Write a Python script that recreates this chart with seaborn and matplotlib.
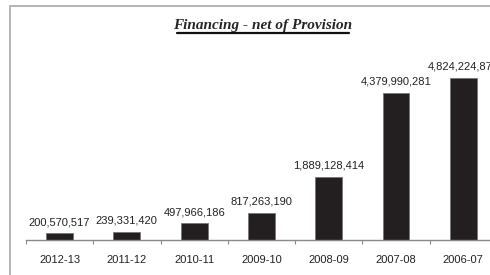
import matplotlib
matplotlib.use("Agg")
import matplotlib.pyplot as plt
import numpy as np
import pandas as pd
import seaborn as sns
from matplotlib.lines import Line2D
from matplotlib.patches import Rectangle

years = ["2012-13", "2011-12", "2010-11", "2009-10", "2008-09", "2007-08", "2006-07"]
financing = [200570517, 239331420, 497966186, 817263190, 1889128414, 4379990281, 4824224870]
value_labels = ["200,570,517", "239,331,420", "497,966,186", "817,263,190",
                "1,889,128,414", "4,379,990,281", "4,824,224,870"]

df = pd.DataFrame({"YEAR": years, "FINANCING": financing})

sns.set_theme(style="white")
plt.rcParams["font.family"] = ["Liberation Sans", "DejaVu Sans"]

fig = plt.figure(figsize=(4.9, 2.75), dpi=100)
ax = fig.add_axes([0.053, 0.127, 0.961, 0.69])

sns.barplot(data=df, x="YEAR", y="FINANCING", color="#231f20", width=0.4,
            edgecolor="#777777", linewidth=0.6, saturation=1, ax=ax)

for i, (v, lab) in enumerate(zip(financing, value_labels)):
    ax.annotate(lab, (i, v), xytext=(0, 4.5), textcoords="offset points",
                ha="center", va="bottom", fontsize=8, color="#222222",
                annotation_clip=False)

ax.set_xlim(-0.5, 6.5)
ax.set_ylim(0, 5.65e9)
ax.set_xlabel("")
ax.set_ylabel("")
ax.set_yticks([])
for side in ["left", "top", "right"]:
    ax.spines[side].set_visible(False)
ax.spines["bottom"].set_color("#8a8a8a")
ax.spines["bottom"].set_linewidth(1.0)
ax.set_xticks(np.arange(-0.5, 7, 1), minor=True)
ax.tick_params(axis="x", which="major", length=0, pad=11, labelsize=8, colors="#222222")
ax.tick_params(axis="x", which="minor", length=3, width=0.8, color="#8a8a8a", direction="out", bottom=True)

# chart frame
fig.patches.append(Rectangle((10 / 490, -0.1), 1.2, 1 - 6 / 275 + 0.1, transform=fig.transFigure,
                             fill=False, edgecolor="#a8a8a8", linewidth=1.2, zorder=0))

fig.text(263 / 490, 1 - 26 / 275, "Financing - net of Provision", ha="center", va="center",
         fontsize=11, fontweight="bold", fontstyle="italic", family=["Liberation Serif"])
fig.lines.append(Line2D([177 / 490, 349 / 490], [1 - 33 / 275] * 2, transform=fig.transFigure,
                        color="#111111", linewidth=1.6))

fig.savefig("out.png", dpi=100)
